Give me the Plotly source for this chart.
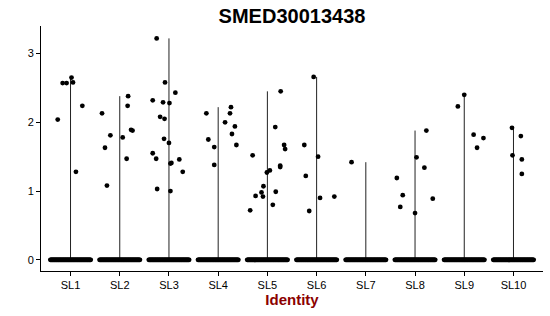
import numpy as np
import plotly.graph_objects as go

# ---- data ----
categories = ["SL1", "SL2", "SL3", "SL4", "SL5", "SL6", "SL7", "SL8", "SL9", "SL10"]

# non-zero expression values per identity
sl1_expr = [2.04, 2.57, 2.57, 2.65, 2.58, 2.24, 1.28]
sl2_expr = [2.38, 2.24, 2.13, 1.81, 1.63, 1.78, 1.47, 1.89, 1.88, 1.08]
sl3_expr = [3.22, 2.58, 2.43, 2.32, 2.29, 2.28, 2.08, 2.05, 1.76, 1.70,
            1.55, 1.47, 1.41, 1.40, 1.46, 1.28, 1.03, 1.00]
sl4_expr = [2.22, 2.13, 2.13, 2.00, 1.94, 1.75, 1.64, 1.83, 1.67, 1.38]
sl5_expr = [2.45, 1.93, 1.67, 1.61, 1.52, 1.37, 1.35, 1.30, 1.27, 1.07,
            0.98, 0.93, 0.92, 0.99, 0.80, 0.72]
sl6_expr = [2.66, 1.67, 1.50, 1.22, 0.90, 0.92, 0.71]
sl7_expr = [1.42]
sl8_expr = [1.88, 1.49, 1.34, 1.19, 0.94, 0.89, 0.77, 0.68]
sl9_expr = [2.40, 2.23, 1.82, 1.77, 1.63]
sl10_expr = [1.92, 1.80, 1.52, 1.46, 1.25]

# estimated number of cells with zero expression per identity
zero_counts = [70, 70, 70, 70, 70, 70, 70, 70, 70, 70]

# horizontal jitter offsets of the non-zero points (positions, kept apart from data)
sl1_jit = [-0.26, -0.16, -0.08, 0.02, 0.05, 0.24, 0.11]
sl2_jit = [0.17, 0.16, -0.36, -0.19, -0.30, 0.06, 0.14, 0.23, 0.26, -0.26]
sl3_jit = [-0.25, -0.08, 0.13, -0.33, -0.12, 0.01, -0.18, -0.09, -0.10, 0.00,
           -0.33, -0.26, 0.05, 0.03, 0.21, 0.28, -0.24, 0.03]
sl4_jit = [0.26, 0.24, -0.24, 0.14, 0.34, -0.20, -0.08, 0.28, 0.37, -0.08]
sl5_jit = [0.27, 0.16, 0.34, 0.36, -0.30, 0.26, 0.26, 0.05, -0.01, -0.08,
           -0.12, -0.24, -0.09, 0.17, 0.11, -0.35]
sl6_jit = [-0.06, -0.25, 0.03, -0.22, 0.07, 0.36, -0.15]
sl7_jit = [-0.29]
sl8_jit = [0.23, 0.03, 0.19, -0.37, -0.25, 0.36, -0.30, 0.00]
sl9_jit = [0.00, -0.13, 0.19, 0.39, 0.26]
sl10_jit = [-0.03, 0.15, -0.02, 0.17, 0.17]

expr_groups = [sl1_expr, sl2_expr, sl3_expr, sl4_expr, sl5_expr,
               sl6_expr, sl7_expr, sl8_expr, sl9_expr, sl10_expr]
jit_groups = [sl1_jit, sl2_jit, sl3_jit, sl4_jit, sl5_jit,
              sl6_jit, sl7_jit, sl8_jit, sl9_jit, sl10_jit]

fig = go.Figure()

# thin "violins": vertical segments from 0 to the group maximum
for i, vals in enumerate(expr_groups):
    fig.add_trace(go.Scatter(
        x=[i, i], y=[0, max(vals)], mode="lines",
        line=dict(color="#222222", width=1), hoverinfo="skip", showlegend=False))

# jittered points
px, py = [], []
for i, (vals, jit) in enumerate(zip(expr_groups, jit_groups)):
    nz = zero_counts[i]
    px.extend(list(i + np.linspace(-0.41, 0.41, nz)))
    py.extend([0.0] * nz)
    px.extend([i + j for j in jit])
    py.extend(vals)

fig.add_trace(go.Scatter(
    x=px, y=py, mode="markers",
    marker=dict(color="black", size=4.8, line=dict(width=0)),
    showlegend=False, hoverinfo="skip"))

font_family = "Liberation Sans, Arial, sans-serif"

fig.update_layout(
    width=550, height=316,
    margin=dict(l=41, r=7, t=26, b=45),
    plot_bgcolor="white", paper_bgcolor="white",
    font=dict(family=font_family, color="black", size=11),
    title=dict(text="<b>SMED30013438</b>", x=0.5, xref="paper", xanchor="center",
               y=0.95, yref="container", yanchor="middle",
               font=dict(family=font_family, size=20, color="black")),
    xaxis=dict(
        range=[-0.6, 9.6], tickmode="array",
        tickvals=list(range(len(categories))), ticktext=categories,
        showline=True, linecolor="black", linewidth=1,
        ticks="outside", ticklen=4, tickcolor="black",
        showgrid=False, zeroline=False,
        tickfont=dict(size=11, color="black"),
        title=dict(text="<b>Identity</b>", standoff=4,
                   font=dict(size=15, color="#8B0000", family=font_family))),
    yaxis=dict(
        range=[-0.162, 3.40], tickvals=[0, 1, 2, 3],
        showline=True, linecolor="black", linewidth=1,
        ticks="outside", ticklen=4, tickcolor="black",
        showgrid=False, zeroline=False,
        tickfont=dict(size=11, color="black")),
)

fig.write_html("out.html")
